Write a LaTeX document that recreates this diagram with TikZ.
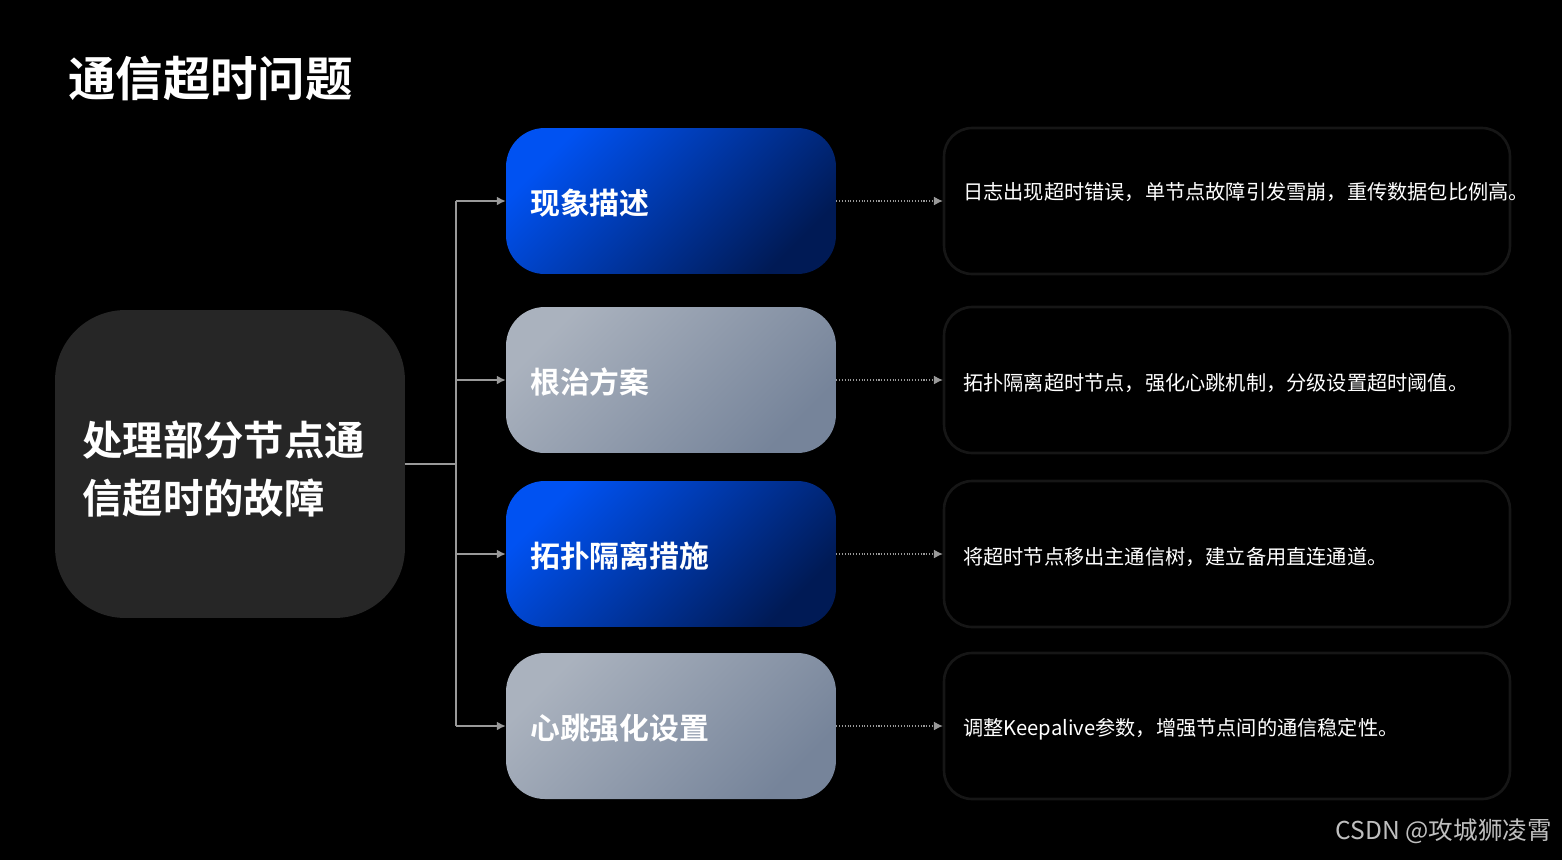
\documentclass[tikz,border=0pt]{standalone}
\usepackage{fontspec}
\newfontfamily\cjk{Noto Sans CJK SC}
\newfontfamily\cjkb{Noto Sans CJK SC Bold}
\usetikzlibrary{positioning}
\usetikzlibrary{arrows.meta}

\definecolor{bluea}{HTML}{0052F2}
\definecolor{blueb}{HTML}{001A55}
\definecolor{graya}{HTML}{AAB2BE}
\definecolor{grayb}{HTML}{76849A}
\definecolor{edge}{HTML}{161616}

\tikzset{
  bluebox/.style={rounded corners=22pt,left color=bluea,right color=blueb,shading angle=45,minimum width=6.6cm,minimum height=2.92cm,draw=none},
  graybox/.style={rounded corners=22pt,left color=graya,right color=grayb,shading angle=45,minimum width=6.6cm,minimum height=2.92cm,draw=none},
  descbox/.style={rounded corners=16pt,fill=black,draw=edge,line width=1.5pt,minimum width=11.32cm,minimum height=2.92cm},
  boxlabel/.style={text=white,font=\cjkb\fontsize{17}{20}\selectfont},
  desc/.style={text=white,font=\cjk\fontsize{11.5}{15}\selectfont,align=left,text width=10.3cm},
  link/.style={draw=gray!80,line width=0.8pt,-{Latex[length=5pt,width=5pt]}},
  dotlink/.style={draw=gray!80,densely dotted,line width=0.6pt,-{Latex[length=5pt,width=5pt]}}
}

\begin{document}
\begin{tikzpicture}[x=0.02cm,y=-0.02cm]
\fill[black] (0,0) rectangle (1562,860);
\useasboundingbox (0,0) rectangle (1562,860);

\node[anchor=west,text=white,font=\cjkb\fontsize{27}{30}\selectfont] (title) at (62,78) {通信超时问题};

% left box
\node[rounded corners=40pt,fill=white!15!black,minimum width=7cm,minimum height=6.16cm] (root) at (230,464) {};
\node[anchor=west,text=white,align=left,font=\cjkb\fontsize{23}{33}\selectfont] (rootlabel) at (76,469) {处理部分节点通\\信超时的故障};

% steps
\node[bluebox] (s1) at (671,201) {};
\node[graybox] (s2) at (671,380) {};
\node[bluebox] (s3) at (671,554) {};
\node[graybox] (s4) at (671,726) {};
\node[boxlabel,anchor=west] at (524,203) {现象描述};
\node[boxlabel,anchor=west] at (524,382) {根治方案};
\node[boxlabel,anchor=west] at (524,556) {拓扑隔离措施};
\node[boxlabel,anchor=west] at (524,728) {心跳强化设置};

% descriptions
\node[descbox] (d1) at (1227,201) {};
\node[descbox] (d2) at (1227,380) {};
\node[descbox] (d3) at (1227,554) {};
\node[descbox] (d4) at (1227,726) {};
\node[desc,anchor=north west] at (957,176) {日志出现超时错误，单节点故障引发雪崩，重传数据包比例高。};
\node[desc,anchor=west] at (957,383) {拓扑隔离超时节点，强化心跳机制，分级设置超时阈值。};
\node[desc,anchor=west] at (957,557) {将超时节点移出主通信树，建立备用直连通道。};
\node[desc,anchor=west] at (957,729) {调整Keepalive参数，增强节点间的通信稳定性。};

% connectors
\coordinate (hub) at (456,464);
\draw[draw=gray!80,line width=0.8pt] (root.east) -- (hub);
\draw[draw=gray!80,line width=0.8pt] (456,201) -- (456,726);
\foreach \i in {1,...,4} {
  \draw[link] (hub |- s\i.west) -- (s\i.west);
  \draw[dotlink] (s\i.east) -- (d\i.west);
}

\node[anchor=east,text=white!75!black,font=\cjk\fontsize{14}{16}\selectfont] (mark) at (1558,831) {CSDN @攻城狮凌霄};
\end{tikzpicture}
\end{document}
